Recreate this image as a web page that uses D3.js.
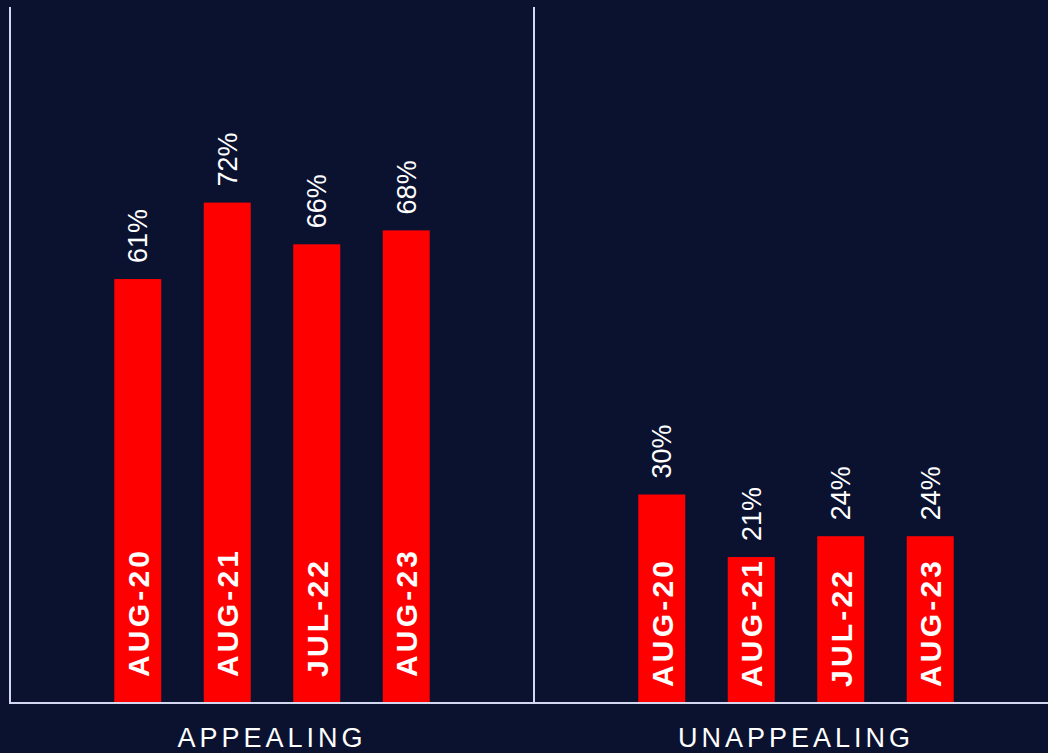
<!DOCTYPE html>
<html>
<head>
<meta charset="utf-8">
<script src="https://cdn.jsdelivr.net/npm/d3@7"></script>
<style>
  html, body { margin: 0; padding: 0; background: #0b1230; }
  svg { display: block; }
</style>
</head>
<body>
<svg id="chart" width="1048" height="753"></svg>
<script>
// Survey waves and the two answer groups
const groups = ["APPEALING", "UNAPPEALING"];
const waves = ["AUG-20", "AUG-21", "JUL-22", "AUG-23"];
const appealing = [61, 72, 66, 68];
const unappealing = [30, 21, 24, 24];
const seriesByGroup = [appealing, unappealing];
// distance from the baseline to the start of the in-bar wave labels
const waveLabelOffset = [26, 16];

const W = 1048, H = 753;
const baseY = 703, topY = 8;
const groupWidth = 524, startX = 10;

const svg = d3.select("#chart");
svg.append("rect").attr("width", W).attr("height", H).attr("fill", "#0b1230");

const x0 = d3.scaleBand()
  .domain(groups)
  .range([startX, startX + groupWidth * groups.length])
  .padding(0);

const x1 = d3.scaleBand()
  .domain(waves)
  .range([0, x0.bandwidth()])
  .paddingInner(0.475)
  .paddingOuter(1.165);

const y = d3.scaleLinear().domain([0, 100]).range([baseY, topY]);

const font = "'Liberation Sans', Arial, Helvetica, sans-serif";
const lineColor = "#d4d7f0";

groups.forEach((g, gi) => {
  const gx = x0(g);
  const layer = svg.append("g").attr("transform", `translate(${gx},0)`);
  const rows = waves.map((w, i) => ({ wave: w, value: seriesByGroup[gi][i] }));

  layer.selectAll("rect.bar").data(rows).join("rect")
    .attr("class", "bar")
    .attr("x", d => x1(d.wave))
    .attr("y", d => y(d.value))
    .attr("width", x1.bandwidth())
    .attr("height", d => baseY - y(d.value))
    .attr("fill", "#ff0000");

  // value labels above each bar, rotated
  layer.selectAll("text.val").data(rows).join("text")
    .attr("class", "val")
    .attr("transform", d => `translate(${x1(d.wave) + x1.bandwidth() / 2 + 9.5},${y(d.value) - 16}) rotate(-90)`)
    .attr("text-anchor", "start")
    .attr("fill", "#ffffff")
    .attr("font-family", font)
    .attr("font-size", 27)
    .attr("font-weight", 300)
    .text(d => d.value + "%");

  // wave labels inside bars
  layer.selectAll("text.wave").data(rows).join("text")
    .attr("class", "wave")
    .attr("transform", d => `translate(${x1(d.wave) + x1.bandwidth() / 2 + 11},${baseY - waveLabelOffset[gi]}) rotate(-90)`)
    .attr("text-anchor", "start")
    .attr("fill", "#ffffff")
    .attr("font-family", font)
    .attr("font-size", 30)
    .attr("font-weight", 700)
    .attr("letter-spacing", 3.2)
    .text(d => d.wave);

  // group label under the baseline
  svg.append("text")
    .attr("x", gx + x0.bandwidth() / 2)
    .attr("y", 747)
    .attr("text-anchor", "middle")
    .attr("fill", "#ffffff")
    .attr("font-family", font)
    .attr("font-size", 27)
    .attr("letter-spacing", 4)
    .text(g);

  // group divider
  svg.append("line")
    .attr("x1", gx).attr("x2", gx)
    .attr("y1", 7).attr("y2", baseY)
    .attr("stroke", lineColor).attr("stroke-width", 2);
});

// baseline
svg.append("line")
  .attr("x1", startX - 1).attr("x2", W)
  .attr("y1", baseY).attr("y2", baseY)
  .attr("stroke", lineColor).attr("stroke-width", 2);
</script>
</body>
</html>
